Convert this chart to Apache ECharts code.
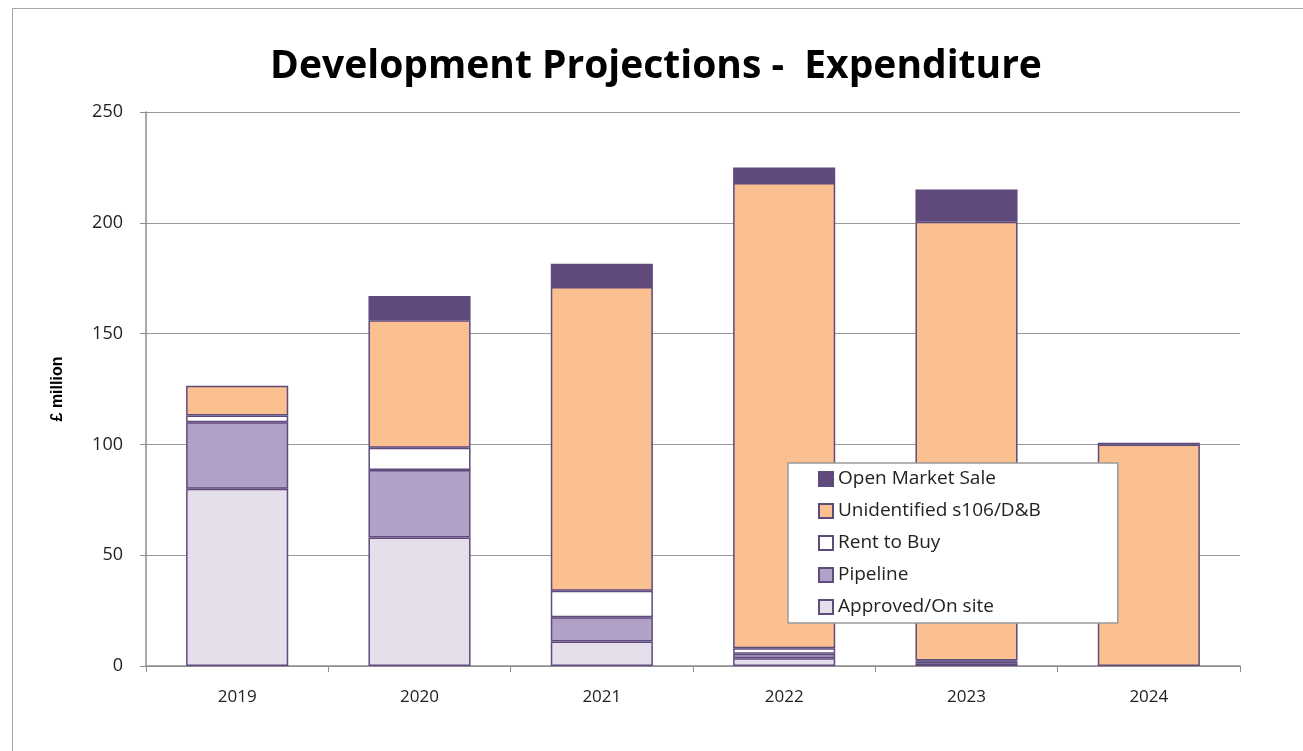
<!DOCTYPE html>
<html>
<head>
<meta charset="utf-8">
<script src="https://cdn.jsdelivr.net/npm/echarts@6/dist/echarts.min.js"></script>
<style>
html, body { margin: 0; padding: 0; background: #fff; }
#chart { width: 1303px; height: 751px; }
</style>
</head>
<body>
<div id="chart"></div>
<script>
// values, £ million
var years = ['2019', '2020', '2021', '2022', '2023', '2024'];
var approved = [80, 58, 11, 3.5, 1, null];
var pipeline = [30, 30.5, 11, 2, 1, null];
var rentToBuy = [3, 10, 12, 2.5, 0.5, null];
var unidentified = [13.5, 57.5, 137, 210, 198, 100];
var openMarket = [null, 11, 10.5, 7, 14.5, 0.7];

var edge = '#5f4a7d';

function bar(name, data, color) {
    return {
        name: name,
        type: 'bar',
        stack: 'total',
        barWidth: '56%',
        data: data,
        itemStyle: { color: color, borderColor: edge, borderWidth: 1.5 }
    };
}

var chart = echarts.init(document.getElementById('chart'));
chart.setOption({
    animation: false,
    title: {
        text: 'Development Projections -  Expenditure',
        left: 651,
        top: 42,
        textAlign: 'center',
        textStyle: { fontFamily: 'Open Sans', fontSize: 39, fontWeight: 'bold', color: '#000' }
    },
    graphic: [{
        type: 'rect',
        shape: { x: 12.5, y: 8.5, width: 1400, height: 800 },
        style: { fill: null, stroke: '#a6a6a6', lineWidth: 1 }
    }],
    legend: {
        orient: 'vertical',
        left: 788,
        top: 463,
        padding: [6, 77, 6, 30],
        itemGap: 12,
        itemWidth: 14,
        itemHeight: 14,
        icon: 'rect',
        backgroundColor: '#fff',
        borderColor: '#9a9a9a',
        borderWidth: 1.5,
        data: ['Open Market Sale', 'Unidentified s106/D&B', 'Rent to Buy', 'Pipeline', 'Approved/On site'],
        textStyle: { fontFamily: 'Open Sans', fontSize: 19, lineHeight: 20, color: '#222' }
    },
    grid: { left: 146, right: 63, top: 112, bottom: 85 },
    xAxis: {
        type: 'category',
        data: years,
        axisLine: { lineStyle: { color: '#8c8c8c', width: 1.5 } },
        axisTick: { show: true, length: 6, lineStyle: { color: '#8c8c8c' } },
        axisLabel: { margin: 23, fontFamily: 'Open Sans', fontSize: 17, color: '#222' }
    },
    yAxis: {
        type: 'value',
        min: 0,
        max: 250,
        interval: 50,
        name: '£ million',
        nameLocation: 'middle',
        nameGap: 80,
        nameTextStyle: { fontFamily: 'Liberation Sans', fontSize: 16, fontWeight: 'bold', color: '#000' },
        axisLine: { show: true, lineStyle: { color: '#8c8c8c', width: 1.5 } },
        axisTick: { show: true, length: 6, lineStyle: { color: '#8c8c8c' } },
        splitLine: { lineStyle: { color: '#9a9a9a', width: 1.2 } },
        axisLabel: { margin: 23, fontFamily: 'Open Sans', fontSize: 18, color: '#222' }
    },
    series: [
        bar('Approved/On site', approved, '#e5dfec'),
        bar('Pipeline', pipeline, '#b2a1c7'),
        bar('Rent to Buy', rentToBuy, '#ffffff'),
        bar('Unidentified s106/D&B', unidentified, '#fac090'),
        bar('Open Market Sale', openMarket, '#604a7b')
    ]
});
</script>
</body>
</html>
